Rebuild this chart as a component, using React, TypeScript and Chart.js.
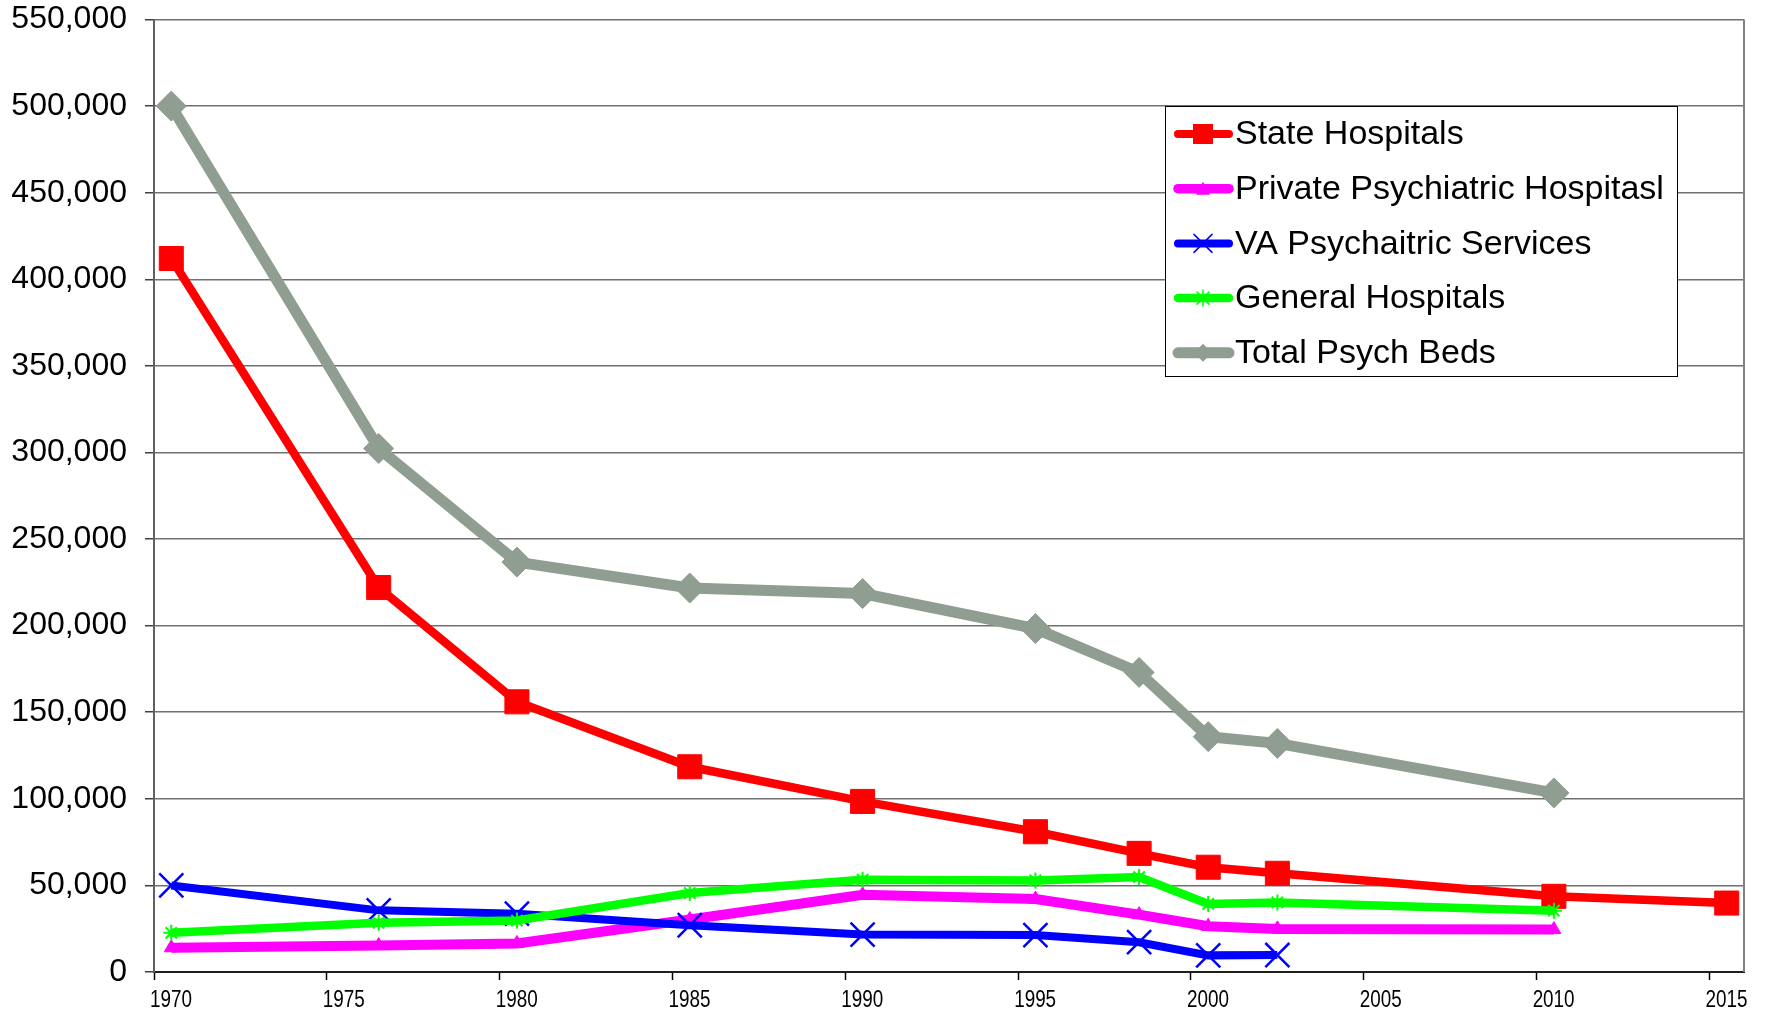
import React, { useEffect, useRef } from "react";
import { Chart, registerables } from "chart.js";

Chart.register(...registerables);

// Data (x positions of the plotted points, in years)
const years = [1970.5, 1976.5, 1980.5, 1985.5, 1990.5, 1995.5, 1998.5, 2000.5, 2002.5, 2010.5, 2015.5];
const stateHospitals = [412000, 222000, 156000, 118500, 98500, 81000, 68500, 60500, 57000, 43700, 39800];
const privatePsych = [14000, 15300, 16500, 30300, 44600, 42100, 33100, 26400, 24900, 24500, null];
const vaServices = [50000, 35600, 33700, 27000, 21600, 21300, 17200, 9600, 9800, null, null];
const generalHosp = [22600, 28400, 29700, 45600, 53300, 52900, 54800, 39300, 40200, 35400, null];
const totalBeds = [500000, 302300, 236700, 221700, 218500, 198300, 173000, 135900, 132000, 103400, null];

const seriesLabels = [
  "State Hospitals",
  "Private Psychiatric Hospitasl",
  "VA Psychaitric Services",
  "General Hospitals",
  "Total Psych Beds",
];
const xTickValues = [1970, 1975, 1980, 1985, 1990, 1995, 2000, 2005, 2010, 2015];

const RED = "#FF0000";
const MAGENTA = "#FF00FF";
const BLUE = "#0000FF";
const GREEN = "#00FF00";
const GRAY = "#8F9E91";
const FONT = "'Liberation Sans', Arial, Helvetica, sans-serif";

function toPoints(vals: (number | null)[]) {
  const pts: { x: number; y: number }[] = [];
  vals.forEach((v, i) => {
    if (v !== null && v !== undefined) pts.push({ x: years[i], y: v });
  });
  return pts;
}

function drawMarker(ctx: CanvasRenderingContext2D, kind: string, x: number, y: number, color: string) {
  ctx.save();
  ctx.fillStyle = color;
  ctx.strokeStyle = color;
  ctx.beginPath();
  if (kind === "rect") {
    ctx.fillRect(x - 10, y - 10, 20, 20);
  } else if (kind === "triangle") {
    ctx.moveTo(x, y - 7);
    ctx.lineTo(x + 7, y + 6);
    ctx.lineTo(x - 7, y + 6);
    ctx.closePath();
    ctx.fill();
  } else if (kind === "crossRot") {
    ctx.lineWidth = 1.5;
    ctx.moveTo(x - 9, y - 9);
    ctx.lineTo(x + 9, y + 9);
    ctx.moveTo(x + 9, y - 9);
    ctx.lineTo(x - 9, y + 9);
    ctx.stroke();
  } else if (kind === "star") {
    ctx.lineWidth = 1.5;
    ctx.moveTo(x - 6, y - 6);
    ctx.lineTo(x + 6, y + 6);
    ctx.moveTo(x + 6, y - 6);
    ctx.lineTo(x - 6, y + 6);
    ctx.moveTo(x, y - 8);
    ctx.lineTo(x, y + 8);
    ctx.stroke();
  } else if (kind === "rectRot") {
    ctx.moveTo(x - 9, y);
    ctx.lineTo(x, y - 9);
    ctx.lineTo(x + 9, y);
    ctx.lineTo(x, y + 9);
    ctx.closePath();
    ctx.fill();
  }
  ctx.restore();
}

const legendPlugin = {
  id: "customLegend",
  afterDraw(chart: any) {
    const ctx: CanvasRenderingContext2D = chart.ctx;
    const left = 1165, top = 106, right = 1677, bottom = 376;
    ctx.save();
    ctx.fillStyle = "#FFFFFF";
    ctx.fillRect(left, top, right - left, bottom - top);
    ctx.strokeStyle = "#000000";
    ctx.lineWidth = 1;
    ctx.strokeRect(left + 0.5, top + 0.5, right - left, bottom - top);
    const kinds = ["rect", "triangle", "crossRot", "star", "rectRot"];
    const widths = [8, 9.5, 8, 8.5, 11];
    chart.data.datasets.forEach((ds: any, i: number) => {
      const y = 134 + i * 54.7;
      ctx.beginPath();
      ctx.lineCap = "round";
      ctx.lineWidth = widths[i];
      ctx.strokeStyle = ds.borderColor;
      ctx.moveTo(1178, y);
      ctx.lineTo(1229, y);
      ctx.stroke();
      drawMarker(ctx, kinds[i], 1203, y, ds.borderColor);
      ctx.fillStyle = "#000000";
      ctx.font = `34px ${FONT}`;
      ctx.textBaseline = "middle";
      ctx.textAlign = "left";
      ctx.fillText(ds.label, 1235, y + 1);
    });
    ctx.restore();
  },
};

const framePlugin = {
  id: "frame",
  afterDatasetsDraw(chart: any) {
    const { ctx, chartArea } = chart;
    ctx.save();
    ctx.strokeStyle = "#808080";
    ctx.lineWidth = 2;
    ctx.beginPath();
    ctx.moveTo(chartArea.right, chartArea.top);
    ctx.lineTo(chartArea.right, chartArea.bottom);
    ctx.stroke();
    ctx.restore();
  },
  afterDraw(chart: any) {
    // narrow x-axis tick labels (condensed like the reference font)
    const { ctx } = chart;
    const xs = chart.scales.x;
    ctx.save();
    ctx.fillStyle = "#000000";
    ctx.font = `23px ${FONT}`;
    ctx.textAlign = "center";
    ctx.textBaseline = "alphabetic";
    const sx = 0.82;
    xTickValues.forEach((v) => {
      const px = xs.getPixelForValue(v) + 17;
      ctx.save();
      ctx.translate(px, 1006.5);
      ctx.scale(sx, 1);
      ctx.fillText(String(v), 0, 0);
      ctx.restore();
    });
    ctx.restore();
  },
};

export default function App() {
  const ref = useRef<HTMLCanvasElement | null>(null);
  useEffect(() => {
    if (!ref.current) return;
    const chart = new Chart(ref.current, {
      type: "line",
      data: {
        datasets: [
          {
            label: seriesLabels[0],
            data: toPoints(stateHospitals),
            borderColor: RED,
            backgroundColor: RED,
            borderWidth: 8.5,
            pointStyle: "rect",
            pointRadius: 17,
            pointBorderWidth: 1,
            order: 4,
          },
          {
            label: seriesLabels[1],
            data: toPoints(privatePsych),
            borderColor: MAGENTA,
            backgroundColor: MAGENTA,
            borderWidth: 10,
            pointStyle: "triangle",
            pointRadius: 8,
            pointBorderWidth: 1,
            order: 3,
          },
          {
            label: seriesLabels[2],
            data: toPoints(vaServices),
            borderColor: BLUE,
            backgroundColor: BLUE,
            borderWidth: 8,
            pointStyle: "crossRot",
            pointRadius: 17,
            pointBorderWidth: 2.5,
            order: 2,
          },
          {
            label: seriesLabels[3],
            data: toPoints(generalHosp),
            borderColor: GREEN,
            backgroundColor: GREEN,
            borderWidth: 8.5,
            pointStyle: "star",
            pointRadius: 8,
            pointBorderWidth: 2,
            order: 1,
          },
          {
            label: seriesLabels[4],
            data: toPoints(totalBeds),
            borderColor: GRAY,
            backgroundColor: GRAY,
            borderWidth: 11,
            pointStyle: "rectRot",
            pointRadius: 15,
            pointBorderWidth: 1,
            order: 0,
          },
        ],
      },
      options: {
        animation: false,
        responsive: false,
        devicePixelRatio: 1,
        parsing: false as any,
        layout: { padding: { left: 0, right: 23, top: 18, bottom: 0 } },
        plugins: {
          legend: { display: false },
          tooltip: { enabled: false },
        },
        elements: { line: { tension: 0 } },
        scales: {
          x: {
            type: "linear",
            min: 1970,
            max: 2016,
            afterFit: (s: any) => {
              s.height = 38;
              s.paddingLeft = 0;
              s.paddingRight = 0;
            },
            afterBuildTicks: (s: any) => {
              s.ticks = xTickValues.map((v) => ({ value: v }));
            },
            ticks: {
              display: false,
            },
            grid: {
              drawOnChartArea: false,
              drawTicks: true,
              tickLength: 8,
              tickColor: "#000000",
              tickWidth: 1.5,
            },
            border: { color: "#202020", width: 2 },
          },
          y: {
            type: "linear",
            min: 0,
            max: 550000,
            afterFit: (s: any) => {
              s.width = 154;
              s.paddingTop = 0;
              s.paddingBottom = 0;
            },
            ticks: {
              stepSize: 50000,
              callback: (v: any) => Number(v).toLocaleString("en-US"),
              font: { family: FONT, size: 32 },
              color: "#000000",
              padding: 18,
            },
            grid: {
              color: "#707070",
              lineWidth: 1.5,
              tickLength: 9,
              tickColor: "#404040",
              tickWidth: 1.5,
            },
            border: { color: "#606060", width: 2 },
          },
        },
      },
      plugins: [framePlugin, legendPlugin],
    } as any);
    return () => chart.destroy();
  }, []);
  return (
    <div style={{ position: "absolute", left: 0, top: 0, width: 1767, height: 1010, background: "#fff" }}>
      <canvas ref={ref} width={1767} height={1010} style={{ width: 1767, height: 1010, display: "block" }} />
    </div>
  );
}
